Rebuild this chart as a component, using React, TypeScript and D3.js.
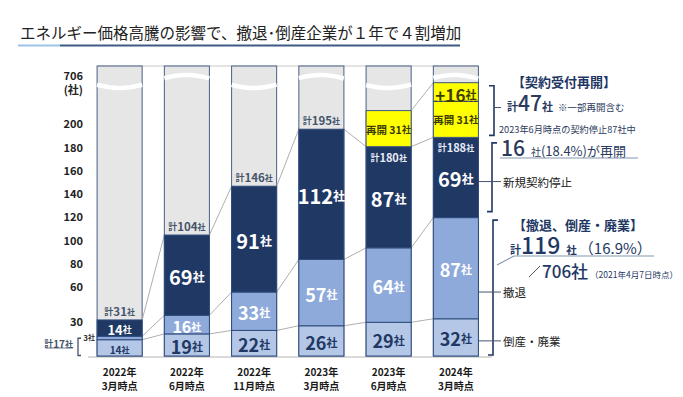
import * as d3 from "d3";

// 撤退・倒産企業の推移（社数）
const yearLabels = ["2022年", "2022年", "2022年", "2023年", "2023年", "2024年"];
const monthLabels = ["3月時点", "6月時点", "11月時点", "3月時点", "6月時点", "3月時点"];
const closed = [14, 19, 22, 26, 29, 32]; // 倒産・廃業
const withdrawn = [3, 16, 33, 57, 64, 87]; // 撤退
const suspended = [14, 69, 91, 112, 87, 69]; // 新規契約停止
const reopened = [0, 0, 0, 0, 31, 31]; // 再開
const reopenedNew = [0, 0, 0, 0, 0, 16]; // +16社
const yTicks = [30, 60, 80, 100, 120, 140, 160, 180, 200];
const axisTop = 706;

const keys = ["closed", "withdrawn", "suspended", "reopened", "reopenedNew"];
const colors: Record<string, string> = {
  closed: "#b4c7e7",
  withdrawn: "#8eaadb",
  suspended: "#1f3864",
  reopened: "#ffff00",
  reopenedNew: "#ffff00",
};

const FONT = '"Noto Sans CJK JP", "Noto Sans", sans-serif';
const NAVY = "#1f3864";
const OLIVE = "#3d3d00";

const rows = closed.map((_, i) => ({
  idx: i,
  closed: closed[i],
  withdrawn: withdrawn[i],
  suspended: suspended[i],
  reopened: reopened[i],
  reopenedNew: reopenedNew[i],
}));
const series = d3.stack<any>().keys(keys)(rows);

const x = d3
  .scaleBand<number>()
  .domain(d3.range(closed.length))
  .range([86, 489.5])
  .paddingInner(0.33)
  .paddingOuter(0.165);
const y = d3.scaleLinear().domain([0, 200]).range([356, 123.4]);
const bw = x.bandwidth();
const colTop = 66;

function Label(props: {
  x: number;
  y: number;
  num: string;
  big: number;
  small: number;
  fill: string;
  pre?: string;
  anchor?: string;
}) {
  return (
    <text
      x={props.x}
      y={props.y}
      textAnchor={props.anchor || "middle"}
      dominantBaseline="central"
      fill={props.fill}
      fontFamily={FONT}
      fontWeight="bold"
    >
      {props.pre ? <tspan fontSize={props.small + 1}>{props.pre}</tspan> : null}
      <tspan fontSize={props.big}>{props.num}</tspan>
      <tspan fontSize={props.small}>社</tspan>
    </text>
  );
}

export default function App() {
  const totals = rows.map((r) => r.closed + r.withdrawn + r.suspended);
  const wave = d3.line();
  const waveCenter = (x(0) as number) + bw / 2;

  // connector lines between neighbouring bars
  const connectors: { x1: number; y1: number; x2: number; y2: number }[] = [];
  for (let i = 0; i < rows.length - 1; i++) {
    for (let k = 0; k < 3; k++) {
      connectors.push({
        x1: (x(i) as number) + bw,
        y1: y(series[k][i][1]),
        x2: x(i + 1) as number,
        y2: y(series[k][i + 1][1]),
      });
    }
    if (reopened[i] > 0 && reopened[i + 1] > 0) {
      connectors.push({
        x1: (x(i) as number) + bw,
        y1: y(series[4][i][1]),
        x2: x(i + 1) as number,
        y2: y(series[4][i + 1][1]),
      });
    }
  }

  const last = rows.length - 1;
  const xr = (x(last) as number) + bw;
  const b1Top = y(series[4][last][1]) + 3;
  const b1Bot = y(totals[last]) - 2;
  const b2Top = y(totals[last]) + 5.5;
  const b2Bot = y(closed[last] + withdrawn[last]) - 6;
  const b3Top = y(closed[last] + withdrawn[last]) + 2.5;
  const b3Bot = y(0) - 1;

  return (
    <svg
      width={683}
      height={397}
      style={{ position: "absolute", left: 0, top: 0, background: "#fff" }}
    >
      {/* title */}
      <text x={20} y={39} fontFamily={FONT} fontSize={15.5} fill="#222">
        エネルギー価格高騰の影響で、撤退･倒産企業が１年で４割増加
      </text>
      <line x1={18} x2={60} y1={45.5} y2={45.5} stroke="#9dc3e6" strokeWidth={2} />
      <line x1={60} x2={460} y1={45.5} y2={45.5} stroke="#3e5a86" strokeWidth={2} />

      {/* y axis labels */}
      <g fontFamily={FONT} fontWeight="bold" fontSize={11} fill="#222" textAnchor="end">
        <text x={83} y={75} dominantBaseline="central">{axisTop}</text>
        <text x={83} y={89} dominantBaseline="central">(社)</text>
        {yTicks.map((t) => (
          <text key={t} x={83} y={y(t)} dominantBaseline="central">
            {t}
          </text>
        ))}
      </g>

      {/* frame lines */}
      <line x1={x(0)} x2={xr} y1={colTop} y2={colTop} stroke="#c8c8c8" strokeWidth={1} />
      <line x1={88} x2={492} y1={357} y2={357} stroke="#d9d9d9" strokeWidth={2} />

      {/* grey background columns with wave break */}
      {rows.map((r, i) => {
        const x0 = x(i) as number;
        const pts = d3
          .range(x0, x0 + bw + 0.5, 1)
          .map((px) => [px, 81.5 + 6.5 * Math.cos((2 * Math.PI * (px - waveCenter)) / 134)] as [number, number]);
        return (
          <g key={i}>
            <rect x={x0} y={colTop} width={bw} height={y(0) - colTop} fill="#e7e6e6" stroke="#4a5f86" strokeWidth={1} />
            <path d={wave(pts) || ""} fill="none" stroke="#fff" strokeWidth={4.5} />
          </g>
        );
      })}

      {/* connectors */}
      {connectors.map((c, i) => (
        <line key={i} {...c} stroke="#a6a6a6" strokeWidth={0.9} />
      ))}

      {/* stacked segments */}
      {series.map((s) =>
        s.map((d, i) =>
          d[1] - d[0] > 0 ? (
            <rect
              key={s.key + i}
              x={x(i)}
              y={y(d[1])}
              width={bw}
              height={y(d[0]) - y(d[1])}
              fill={colors[s.key]}
              stroke={s.key === "reopenedNew" || s.key === "reopened" ? "#3b5584" : "#2f4b7c"}
              strokeWidth={1}
            />
          ) : null
        )
      )}
      {/* dashed separator in the last bar */}
      {rows.map((r, i) =>
        r.reopenedNew > 0 ? (
          <line
            key={"dash" + i}
            x1={(x(i) as number) + 1}
            x2={(x(i) as number) + bw - 1}
            y1={y(series[3][i][1])}
            y2={y(series[3][i][1])}
            stroke="#333"
            strokeDasharray="3,2"
            strokeWidth={1}
          />
        ) : null
      )}

      {/* segment labels */}
      {rows.map((r, i) => {
        const cx = (x(i) as number) + bw / 2;
        const mid = (k: number) => y((series[k][i][0] + series[k][i][1]) / 2);
        const first = i === 0;
        const thin = r.withdrawn < 20;
        return (
          <g key={"lab" + i}>
            <Label x={cx} y={mid(0) + 1} num={String(r.closed)} big={first ? 10 : 18} small={first ? 8 : 11} fill={NAVY} />
            {first ? (
              <Label x={(x(i) as number) - 2} y={mid(1) - 1} num={String(r.withdrawn)} big={8} small={7} fill="#333" anchor="end" />
            ) : (
              <Label x={cx} y={mid(1) + 1} num={String(r.withdrawn)} big={thin ? 16 : 18} small={thin ? 10 : 11} fill="#fff" />
            )}
            <Label x={cx} y={mid(2) + 1} num={String(r.suspended)} big={first ? 13 : 20} small={first ? 9 : 12} fill="#fff" />
            {r.reopened > 0 ? (
              <Label x={cx} y={mid(3)} num={" " + r.reopened} pre="再開" big={10.5} small={9.5} fill={OLIVE} />
            ) : (
              <Label x={cx} y={y(totals[i]) - 9} num={String(totals[i])} pre="計" big={11.5} small={8} fill="#44546a" />
            )}
            {r.reopened > 0 ? (
              <Label x={cx} y={y(totals[i]) + 10} num={String(totals[i])} pre="計" big={11} small={8} fill="#e8ecf5" />
            ) : null}
            {r.reopenedNew > 0 ? (
              <Label x={cx} y={mid(4) + 2} num={"+" + r.reopenedNew} big={17} small={11} fill={OLIVE} />
            ) : null}
          </g>
        );
      })}

      {/* 計17社 bracket */}
      <text x={73} y={343} textAnchor="end" dominantBaseline="central" fontFamily={FONT} fontWeight="bold" fill="#44546a">
        <tspan fontSize={9}>計</tspan>
        <tspan fontSize={10}>{closed[0] + withdrawn[0]}</tspan>
        <tspan fontSize={8}>社</tspan>
      </text>
      <line x1={46} x2={73} y1={348} y2={348} stroke="#44546a" strokeWidth={0.8} />
      <path
        d={`M81,${y(closed[0] + withdrawn[0]) + 2}H78V${y(0) - 0.5}H81`}
        fill="none"
        stroke="#44546a"
        strokeWidth={1.3}
      />

      {/* x labels */}
      <g fontFamily={FONT} fontWeight="bold" fontSize={10} fill="#1a1a1a" textAnchor="middle">
        {rows.map((r, i) => (
          <g key={"xl" + i}>
            <text x={(x(i) as number) + bw / 2} y={371} dominantBaseline="central">{yearLabels[i]}</text>
            <text x={(x(i) as number) + bw / 2} y={385} dominantBaseline="central">{monthLabels[i]}</text>
          </g>
        ))}
      </g>

      {/* right side brackets */}
      <g fill="none" stroke={NAVY} strokeWidth={1.6}>
        <path d={`M489,${b1Top}H494V${b1Bot}H489`} />
        <path d={`M497,${b2Top}H492V${b2Bot}H487`} />
        <path d={`M498,${b3Top}H493V${b3Bot}H488`} />
      </g>
      <g stroke="#44546a" strokeWidth={1}>
        <line x1={494} x2={501} y1={(b1Top + b1Bot) / 2 - 3} y2={(b1Top + b1Bot) / 2 - 3} />
        <line x1={xr} x2={501} y1={y(150)} y2={y(150)} />
        <line x1={xr} x2={501} y1={y(55)} y2={y(55)} />
        <line x1={xr} x2={501} y1={y(13)} y2={y(13)} />
      </g>
      <g fontFamily={FONT} fontSize={11.5} fill="#222" dominantBaseline="central">
        <text x={503} y={y(150)}>新規契約停止</text>
        <text x={503} y={y(55)}>撤退</text>
        <text x={503} y={y(13)}>倒産・廃業</text>
      </g>

      {/* 契約受付再開 annotation */}
      <g fontFamily={FONT} fill="#2b3a5c">
        <text x={512} y={87} fontSize={13} fontWeight="bold" fill={NAVY}>
          【契約受付再開】
        </text>
        <text x={507} y={111} fontWeight="bold">
          <tspan fontSize={11}>計</tspan>
          <tspan fontSize={21} fontWeight={500}>{reopened[last] + reopenedNew[last]}</tspan>
          <tspan fontSize={11}>社</tspan>
          <tspan fontSize={9.5} fontWeight="normal" dx={5}>※一部再開含む</tspan>
        </text>
        <text x={499} y={133} fontSize={9.2}>
          2023年6月時点の契約停止87社中
        </text>
        <text x={501} y={156}>
          <tspan fontSize={21} fontWeight={500}>{reopenedNew[last]}</tspan>
          <tspan fontSize={10} dx={6}>社</tspan>
          <tspan fontSize={13}>(18.4%)が再開</tspan>
        </text>
        <line x1={500} x2={638} y1={158} y2={158} stroke="#8497b0" strokeWidth={1.2} />
      </g>

      {/* 撤退、倒産・廃業 annotation */}
      <g fontFamily={FONT} fill={NAVY}>
        <text x={513} y={230} fontSize={13} fontWeight="bold">
          【撤退、倒産・廃業】
        </text>
        <text x={510} y={254}>
          <tspan fontSize={11} fontWeight="bold">計</tspan>
          <tspan fontSize={23} fontWeight={500}>{closed[last] + withdrawn[last]}</tspan>
          <tspan fontSize={10.5} fontWeight="bold" dx={6}>社</tspan>
          <tspan fontSize={15} dx={2}>（16.9%）</tspan>
        </text>
        <line x1={497} x2={514} y1={265} y2={256} stroke="#8497b0" strokeWidth={1.2} />
        <line x1={514} x2={654} y1={256} y2={256} stroke="#8497b0" strokeWidth={1.2} />
        <line x1={529} x2={540} y1={277} y2={266} stroke="#555" strokeWidth={1} />
        <text x={542} y={278}>
          <tspan fontSize={17} fontWeight={500}>{axisTop}社</tspan>
          <tspan fontSize={8.5} dx={2}>（2021年4月7日時点）</tspan>
        </text>
      </g>
    </svg>
  );
}
